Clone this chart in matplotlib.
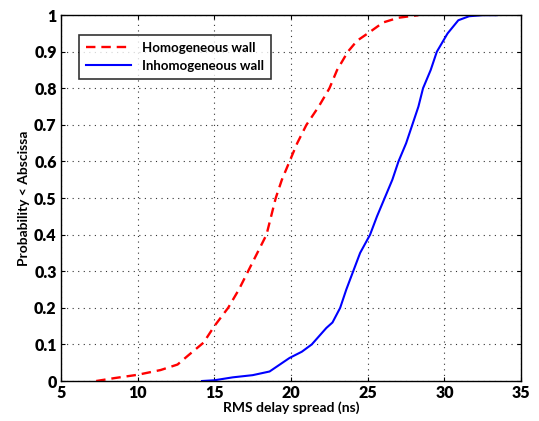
import matplotlib
matplotlib.use("Agg")
import matplotlib.pyplot as plt

plt.rcParams['font.family'] = ['Lato', 'DejaVu Sans']

homog_x = [7.3, 8.5, 10.0, 11.5, 12.6, 13.3, 14.3, 15.0, 15.9, 16.6, 17.2, 17.8, 18.4, 18.7, 19.0, 19.4, 19.9, 20.4, 21.0, 21.8, 22.5, 23.0, 23.7, 24.3, 25.1, 26.0, 27.0, 28.3]
homog_y = [0.0, 0.008, 0.017, 0.03, 0.045, 0.07, 0.105, 0.15, 0.2, 0.25, 0.3, 0.35, 0.4, 0.45, 0.5, 0.55, 0.6, 0.65, 0.7, 0.75, 0.8, 0.85, 0.9, 0.93, 0.953, 0.98, 0.993, 1.0]

inhom_x = [14.2, 15.0, 16.2, 17.5, 18.6, 19.9, 20.7, 21.35, 22.3, 22.7, 23.2, 23.6, 24.05, 24.5, 25.15, 25.6, 26.1, 26.6, 27.0, 27.5, 27.9, 28.3, 28.6, 29.1, 29.5, 30.2, 30.9, 31.6, 32.5, 33.4]
inhom_y = [0.0, 0.002, 0.01, 0.016, 0.026, 0.063, 0.08, 0.1, 0.145, 0.16, 0.2, 0.25, 0.3, 0.35, 0.4, 0.45, 0.5, 0.55, 0.6, 0.65, 0.7, 0.75, 0.8, 0.85, 0.9, 0.95, 0.986, 0.997, 1.0, 1.0]

xticks = [5, 10, 15, 20, 25, 30, 35]
yticks = [0, 0.1, 0.2, 0.3, 0.4, 0.5, 0.6, 0.7, 0.8, 0.9, 1]
ytick_labels = ['0', '0.1', '0.2', '0.3', '0.4', '0.5', '0.6', '0.7', '0.8', '0.9', '1']

fig = plt.figure(figsize=(5.39, 4.21), dpi=100)
ax = fig.add_axes([0.113, 0.095, 0.854, 0.869])

ax.plot(homog_x, homog_y, color='#ff0000', linestyle='--', linewidth=1.7, dashes=(4, 2.5), label='Homogeneous wall')
ax.plot(inhom_x, inhom_y, color='#0000ff', linestyle='-', linewidth=1.5, label='Inhomogeneous wall')

ax.set_xlim(5, 35)
ax.set_ylim(0, 1)
ax.set_xticks(xticks)
ax.set_yticks(yticks)
ax.set_yticklabels(ytick_labels)
ax.tick_params(direction='in', top=True, right=True, length=3, labelsize=11.5, pad=3)
for lab in ax.get_xticklabels() + ax.get_yticklabels():
    lab.set_fontweight('heavy')
ax.grid(True, linestyle=(0, (1, 4)), color='#333333', linewidth=0.8)
for s in ax.spines.values():
    s.set_linewidth(1.0)

ax.set_xlabel('RMS delay spread (ns)', fontsize=10, fontweight='bold', labelpad=0)
ax.set_ylabel('Probability < Abscissa', fontsize=10, fontweight='bold', labelpad=3)

leg = ax.legend(loc='upper left', bbox_to_anchor=(0.025, 0.965), frameon=True,
                fancybox=False, edgecolor='black', handlelength=3.4, borderpad=0.55,
                labelspacing=0.45, handletextpad=0.8, prop={'weight': 'bold', 'size': 9.5})
leg.get_frame().set_linewidth(1.2)

fig.savefig('out.png', dpi=100)
